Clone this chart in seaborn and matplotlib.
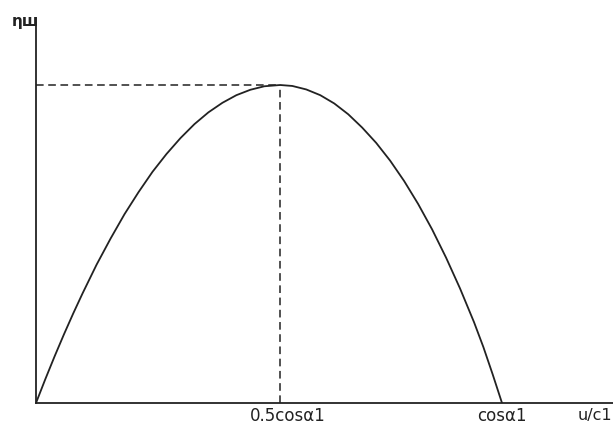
import matplotlib
matplotlib.use("Agg")
import matplotlib.pyplot as plt
from matplotlib.transforms import ScaledTranslation
import seaborn as sns
import pandas as pd

# Efficiency curve: speed ratio u/c1 (in units of cos α1) against η_u (in units of its maximum)
speed_ratio = [0.0, 0.02, 0.04, 0.06, 0.08, 0.10, 0.13, 0.16, 0.19, 0.22,
               0.25, 0.28, 0.31, 0.34, 0.37, 0.40, 0.43, 0.46, 0.49, 0.524,
               0.55, 0.58, 0.61, 0.64, 0.67, 0.70, 0.73, 0.76, 0.79, 0.82,
               0.85, 0.88, 0.91, 0.94, 0.96, 0.98, 1.0]
efficiency = [0.0, 0.075, 0.147, 0.216, 0.282, 0.345, 0.435, 0.517, 0.594, 0.663,
              0.727, 0.783, 0.833, 0.877, 0.914, 0.944, 0.968, 0.985, 0.996, 1.0,
              0.997, 0.986, 0.968, 0.942, 0.908, 0.866, 0.818, 0.762, 0.698, 0.626,
              0.546, 0.457, 0.360, 0.254, 0.176, 0.090, 0.0]

peak_x = 0.524
peak_y = 1.0
tick_positions = [peak_x, 1.0]
tick_labels = ["0.5cosα1", "cosα1"]
x_label = "u/c1"
y_label = "ηш"

sns.set_theme(style="white")
plt.rcParams["font.family"] = ["DejaVu Sans"]

ink = "#222222"
fig = plt.figure(figsize=(6.13, 4.28), dpi=100)
ax = fig.add_axes([36 / 613, 25 / 428, 577 / 613, 385 / 428])

df = pd.DataFrame({"u": speed_ratio, "eta": efficiency})
sns.lineplot(data=df, x="u", y="eta", ax=ax, color=ink, linewidth=1.3, sort=False)

# Guide lines marking the optimum
ax.plot([0, peak_x], [peak_y, peak_y], color=ink, linewidth=1.1, dashes=(5, 3))
ax.plot([peak_x, peak_x], [0, peak_y], color=ink, linewidth=1.1, dashes=(5, 3))

ax.set_xlim(0, 577 / 466)
ax.set_ylim(0, 385 / 318)

for side in ("top", "right"):
    ax.spines[side].set_visible(False)
for side in ("left", "bottom"):
    ax.spines[side].set_color(ink)
    ax.spines[side].set_linewidth(1.3)

ax.set_xticks(tick_positions)
ax.set_xticklabels(tick_labels, fontsize=12, color=ink)
ax.set_yticks([])
ax.tick_params(axis="x", length=0, pad=3)
ax.set_xlabel("")
ax.set_ylabel("")

# nudge the first tick label slightly to the right of its guide line
first = ax.get_xticklabels()[0]
first.set_transform(first.get_transform() + ScaledTranslation(8 / 100, 0, fig.dpi_scale_trans))

ax.text(1.163, -0.016, x_label, transform=ax.transData, fontsize=11.5, color=ink,
        ha="left", va="top")
ax.text(-0.052, 1.201, y_label, transform=ax.transData, fontsize=11, color=ink,
        ha="left", va="center", fontweight="bold")

fig.savefig("out.png", dpi=100)
